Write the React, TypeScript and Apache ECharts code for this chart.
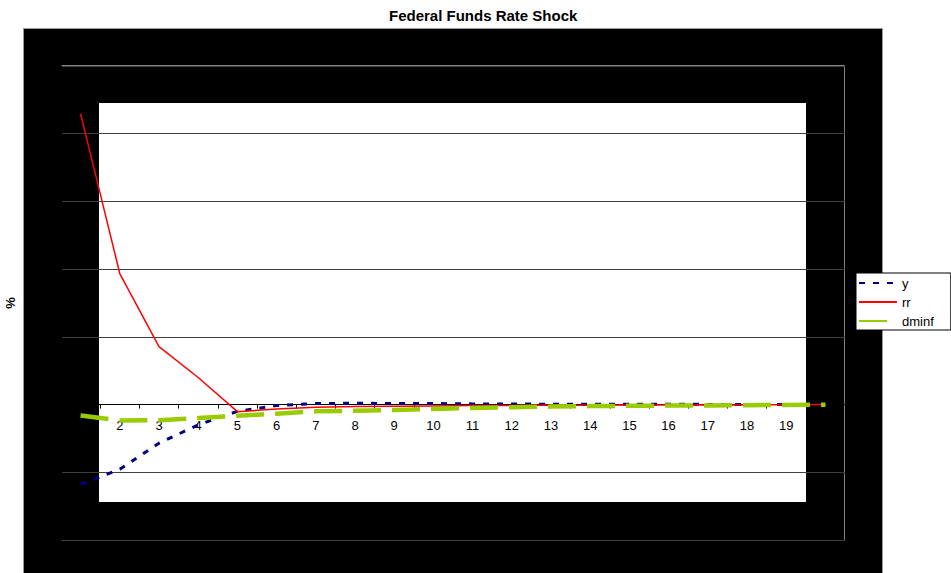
import React, { useEffect, useRef } from "react";
import * as echarts from "echarts";

const categories = ["1", "2", "3", "4", "5", "6", "7", "8", "9", "10", "11", "12", "13", "14", "15", "16", "17", "18", "19", "20"];
const ySeries = [-0.236, -0.191, -0.114, -0.06, -0.02, -0.003, 0.003, 0.004, 0.003, 0.003, 0.002, 0.002, 0.001, 0.001, 0.001, 0.001, 0.0005, 0.0005, 0.0003, 0.0];
const rrSeries = [0.859, 0.387, 0.171, 0.08, -0.021, -0.013, -0.008, -0.006, -0.005, -0.004, -0.003, -0.003, -0.002, -0.002, -0.001, -0.001, -0.001, -0.001, -0.0005, 0.0];
const dminfSeries = [-0.032, -0.047, -0.046, -0.04, -0.033, -0.027, -0.02, -0.018, -0.016, -0.013, -0.01, -0.008, -0.006, -0.0045, -0.0035, -0.003, -0.0025, -0.002, -0.001, -0.0005];
const yMin = -0.4;
const yMax = 1.0;
const yInterval = 0.2;

const FONT = "'Liberation Sans', Arial, sans-serif";

const GRID_TOP = 66;
const GRID_BOTTOM = 33;
const GRID_H = 573 - GRID_TOP - GRID_BOTTOM;
const ZERO_OFFSET = -GRID_H * ((0 - yMin) / (yMax - yMin));

export default function App() {
  const ref = useRef<HTMLDivElement>(null);
  useEffect(() => {
    if (!ref.current) return;
    const chart = echarts.init(ref.current, undefined, { renderer: "svg" });
    chart.setOption({
      animation: false,
      backgroundColor: "#ffffff",
      title: {
        text: "Federal Funds Rate Shock",
        left: 389,
        top: 8,
        padding: 0,
        textStyle: { fontFamily: FONT, fontSize: 15, fontWeight: "bold", color: "#000" },
      },
      graphic: [
        {
          type: "rect",
          z: 0,
          shape: { x: 23.5, y: 28.5, width: 859, height: 560 },
          style: { fill: "#000", stroke: "#999", lineWidth: 1 },
        },
        {
          type: "rect",
          z: 1,
          shape: { x: 61.5, y: 65.5, width: 783, height: 475 },
          style: { fill: "#000", stroke: "#808080", lineWidth: 1 },
        },
        {
          type: "rect",
          z: 2,
          shape: { x: 99, y: 103, width: 707, height: 399 },
          style: { fill: "#fff" },
        },
      ],
      grid: { left: 61, right: 106, top: GRID_TOP, bottom: GRID_BOTTOM, show: false, outerBoundsMode: "none", containLabel: false },
      legend: {
        orient: "vertical",
        left: 856,
        top: 273,
        z: 30,
        backgroundColor: "#fff",
        borderColor: "#000",
        borderWidth: 1,
        padding: [2, 17, 1, 2],
        itemWidth: 38,
        itemHeight: 10,
        itemGap: 3,
        itemStyle: { opacity: 0 },
        textStyle: { fontFamily: FONT, fontSize: 13, color: "#000", lineHeight: 16 },
        data: ["y", "rr", "dminf"],
      },
      xAxis: {
        type: "category",
        data: categories,
        boundaryGap: true,
        position: "bottom",
        offset: ZERO_OFFSET,
        z: 10,
        axisLine: { onZero: false, lineStyle: { color: "#000", width: 1 } },
        axisTick: { show: true, length: 4, lineStyle: { color: "#000" } },
        axisLabel: { fontFamily: FONT, fontSize: 13, color: "#000", margin: 14, interval: 0 },
        splitLine: { show: false },
      },
      yAxis: {
        type: "value",
        min: yMin,
        max: yMax,
        interval: yInterval,
        z: 10,
        name: "%",
        nameLocation: "middle",
        nameGap: 44,
        nameTextStyle: { fontFamily: FONT, fontSize: 13, fontWeight: "bold", color: "#000" },
        axisLine: { show: true, lineStyle: { color: "#000" } },
        axisTick: { show: true, length: 4, lineStyle: { color: "#000" } },
        axisLabel: { fontFamily: FONT, fontSize: 13, color: "#000" },
        splitLine: { show: true, lineStyle: { color: "#404040", width: 1 } },
      },
      series: [
        {
          name: "y",
          type: "line",
          data: ySeries,
          z: 20,
          symbol: "none",
          lineStyle: { color: "#000080", width: 3, type: [6, 8] },
          itemStyle: { color: "#000080" },
        },
        {
          name: "rr",
          type: "line",
          data: rrSeries,
          z: 21,
          symbol: "none",
          lineStyle: { color: "#ff0000", width: 1.5, type: "solid" },
          itemStyle: { color: "#ff0000" },
        },
        {
          name: "dminf",
          type: "line",
          data: dminfSeries,
          z: 22,
          symbol: "none",
          lineStyle: { color: "#99cc00", width: 4.5, type: [28, 11] },
          itemStyle: { color: "#99cc00" },
        },
      ],
    });
    return () => chart.dispose();
  }, []);
  return <div ref={ref} style={{ position: "absolute", left: 0, top: 0, width: 951, height: 573 }} />;
}
